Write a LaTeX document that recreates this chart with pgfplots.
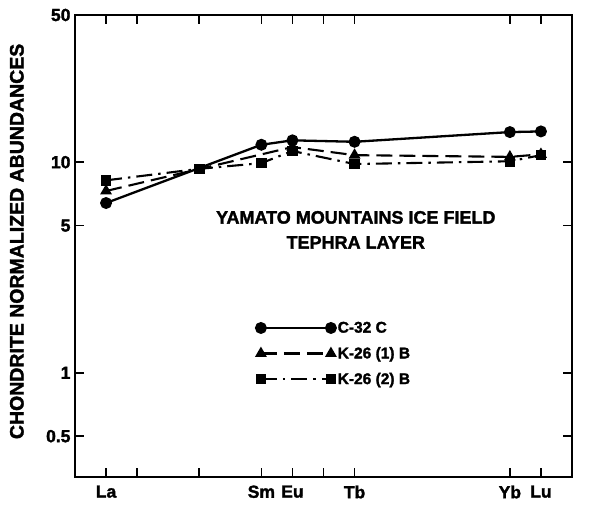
\documentclass[border=0pt]{standalone}
\usepackage{pgfplots}
\pgfplotsset{compat=1.18}
\usepackage{fontspec}
\setmainfont{Liberation Sans}
\newfontfamily\hv{Liberation Sans Bold}[FakeBold=1.8]
\begin{document}
\begin{tikzpicture}
\begin{axis}[
  scale only axis,
  width=497pt, height=462pt,
  ymode=log,
  xmin=56, xmax=72,
  ymin=0.32, ymax=50,
  axis line style={line width=2pt},
  xtick={57,58,60,62,63,64,65,70,71},
  xticklabels={La,,,Sm,Eu,,Tb,Yb,Lu},
  ytick={0.5,1,5,10,50},
  yticklabels={0.5,1,5,10,50},
  minor ytick={},
  tick align=inside,
  major tick length=9pt,
  every tick/.style={line width=1.6pt, black},
  /pgf/number format/assume math mode=true,
  ticklabel style={font=\hv\fontsize{17.5}{17.5}\selectfont},
  xticklabel style={yshift=-5pt},
  yticklabel style={xshift=-1pt},
  ylabel={CHONDRITE NORMALIZED ABUNDANCES},
  ylabel style={at={(axis description cs:-0.117,0.51)}, anchor=center, font=\hv\fontsize{19.5}{19.5}\selectfont},
  legend cell align=left,
  legend style={draw=none, fill=none, at={(0.358,0.345)}, anchor=north west,
    font=\hv\fontsize{15.5}{15.5}\selectfont, row sep=9pt,
    /tikz/every even column/.append style={column sep=3pt}},
  legend image code/.code={
    \draw[mark repeat=2, mark phase=1, #1] plot coordinates {(0pt,0pt) (35pt,0pt) (70pt,0pt)};
  },
  clip=false,
]
\addplot[black, line width=2.3pt, mark=*, mark size=4.8pt, mark options={solid}]
  coordinates {(57,6.4) (62,12.1) (63,12.7) (65,12.5) (70,13.9) (71,14.0)};
\addlegendentry{C-32 C}
\addplot[black, line width=2.1pt, dash pattern=on 16pt off 7pt, mark=triangle*, mark size=4.8pt, mark options={solid}]
  coordinates {(57,7.3) (63,11.8) (65,10.8) (70,10.6) (71,10.9)};
\addlegendentry{K-26 (1) B}
\addplot[black, line width=2.1pt, dash pattern=on 16pt off 6pt on 2.5pt off 6pt, mark=square*, mark size=4.2pt, mark options={solid}]
  coordinates {(57,8.2) (60,9.3) (62,9.9) (63,11.3) (65,9.8) (70,10.1) (71,10.8)};
\addlegendentry{K-26 (2) B}
\node[align=center, font=\hv\fontsize{18}{25}\selectfont, inner sep=0pt]
  at (rel axis cs:0.565,0.535) {YAMATO MOUNTAINS ICE FIELD\\TEPHRA LAYER};
\pgfplotsinvokeforeach{57,58,60,62,63,64,65,70,71}{
  \draw[line width=1.6pt] (axis cs:#1,50) -- (axis cs:#1,45.3);
}
\pgfplotsinvokeforeach{0.5,1,5,10}{
  \draw[line width=1.6pt] (axis cs:72,#1) -- (axis cs:71.71,#1);
}
\coordinate (SW) at (rel axis cs:0,0);
\end{axis}
\pgfresetboundingbox
\path (SW) ++(-75pt,-30pt) rectangle ++(612pt,507pt);
\end{tikzpicture}
\end{document}
